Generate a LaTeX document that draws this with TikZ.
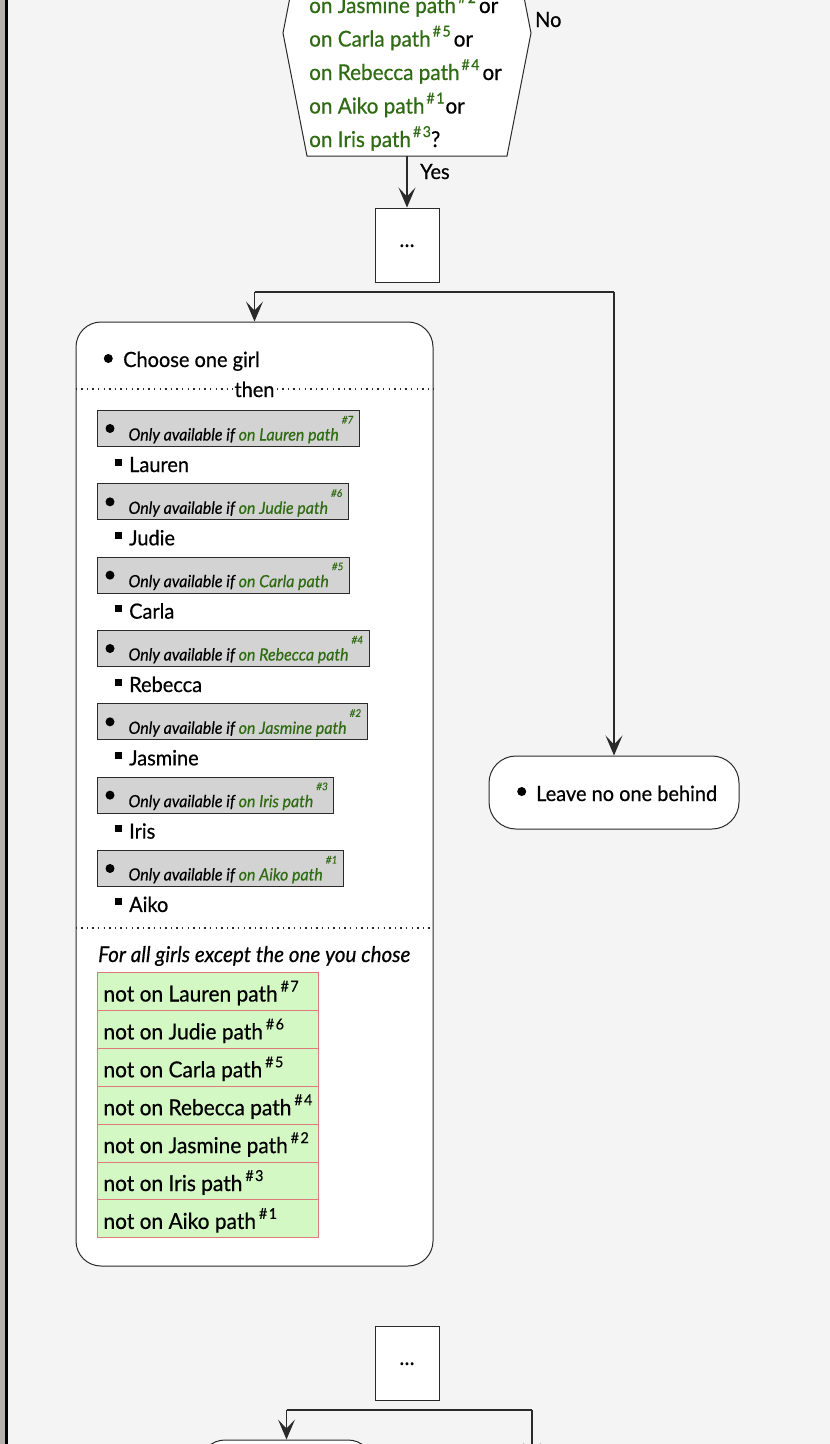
\documentclass[tikz,border=0pt]{standalone}
\usepackage{fontspec}
\setmainfont{Lato}[FakeStretch=0.95, FakeBold=0.5]
\usetikzlibrary{arrows.meta}
\definecolor{bg}{HTML}{F4F4F4}
\definecolor{strip}{HTML}{B4B1AE}
\definecolor{pathgreen}{HTML}{2F6B12}
\definecolor{grayfill}{HTML}{D3D3D3}
\definecolor{tabfill}{HTML}{D4F8C4}
\definecolor{tabline}{HTML}{E07A7A}
\definecolor{edge}{HTML}{2A2A2A}
\newcommand\hexsup[1]{\kern2pt\raisebox{10pt}{\fontsize{15}{14}\selectfont\#\kern1.5pt#1}}
\newcommand\gsup[1]{\kern3pt\raisebox{17pt}{\fontsize{10.5}{10}\selectfont\itshape\##1}}
\newcommand\tsup[1]{\kern3pt\raisebox{10pt}{\fontsize{15}{14}\selectfont\#\kern1.5pt#1}}
\begin{document}
\begin{tikzpicture}[x=1pt,y=1pt,
  fnt/.style={font=\fontsize{21}{24}\selectfont},
  plain/.style={fnt, inner sep=0pt, anchor=base west},
  hexfnt/.style={font=\fontsize{21.8}{24}\selectfont},
  boxline/.style={draw=edge, line width=1pt},
  dotsbox/.style={boxline, fill=white, minimum width=64pt, minimum height=74pt, inner sep=0pt, fnt},
  roundbox/.style={boxline, fill=white, inner sep=0pt},
  graybox/.style={draw=edge, line width=1pt, fill=grayfill, inner sep=0pt, anchor=north west,
    text height=30pt, text depth=6pt, font=\fontsize{16.8}{18}\selectfont\itshape},
  tabrow/.style={draw=tabline, line width=1pt, fill=tabfill, inner xsep=6pt, inner ysep=0pt,
    anchor=north west, text height=29pt, text depth=9pt,
    font=\fontsize{22}{24}\selectfont},
  arr/.style={draw=edge, line width=1.5pt, -{Stealth[length=20pt,width=17pt,inset=9pt]}},
  bar/.style={draw=edge, line width=2.6pt},
  dots/.style={draw=edge, line width=1.4pt, dash pattern=on 1.4pt off 4.2pt},
]
\useasboundingbox (0,0) rectangle (830,-1444);
\clip (0,0) rectangle (830,-1444);
% background and window edge
\fill[bg] (0,0) rectangle (830,-1444);
\fill[strip] (0,0) rectangle (5,-1444);
\fill[black] (5,0) rectangle (8,-1444);

% decision hexagon
\draw[boxline, fill=white] (307,90) -- (507,90) -- (531,-33) -- (507,-156) -- (307,-156) -- (283,-33) -- cycle;
\coordinate (hexb) at (407,-156);
\node[plain, hexfnt] (h1) at (309,-13) {\color{pathgreen}on Jasmine path\hexsup{2}\kern3pt\color{black}or};
\node[plain, hexfnt] (h2) at (309,-46.5) {\color{pathgreen}on Carla path\hexsup{5}\kern3pt\color{black}or};
\node[plain, hexfnt] (h3) at (309,-80) {\color{pathgreen}on Rebecca path\hexsup{4}\kern3pt\color{black}or};
\node[plain, hexfnt] (h4) at (309,-113.5) {\color{pathgreen}on Aiko path\hexsup{1}\kern1pt\color{black}or};
\node[plain, hexfnt] (h5) at (309,-147) {\color{pathgreen}on Iris path\hexsup{3}\color{black}?};
\node[plain] (no) at (535,-27) {No};

% first action box
\node[dotsbox] (d1) at (407,-245) {\raisebox{-4pt}{…}};
\draw[arr] (hexb) -- (d1.north);
\node[plain] (yes) at (420,-179) {Yes};

% fork
\coordinate (f1a) at (254.5,-292);
\coordinate (f1b) at (614,-292);
\draw[bar] (f1a) -- (f1b);

% main choice box
\node[roundbox, rounded corners=25pt, minimum width=357pt, minimum height=944pt] (main) at (254.5,-794) {};
\draw[arr] (f1a) -- (main.north);

\fill[black] (108.3,-358.5) circle (4.5);
\node[plain] (choose) at (123,-367) {Choose one girl};
\node[fnt, inner xsep=2pt, inner ysep=0pt, anchor=base] (then) at (254.5,-397) {then};
\draw[dots] (main.west |- 0,-389) -- (then.west |- 0,-389);
\draw[dots] (then.east |- 0,-389) -- (main.east |- 0,-389);

% girls
\foreach \i/\name/\num in {0/Lauren/7,1/Judie/6,2/Carla/5,3/Rebecca/4,4/Jasmine/2,5/Iris/3,6/Aiko/1}{
  \pgfmathsetmacro\top{-410-73.33*\i}
  \node[graybox] (g\i) at (97,\top) {\hspace*{31pt}Only available if {\color{pathgreen}on \name\ path\gsup{\num}}\hspace*{6pt}};
  \fill[black] (110,\top-18.5) circle (4.5);
  \fill[black] (115,\top-48.5) rectangle +(7,-7);
  \node[plain] (n\i) at (129,\top-62) {\name};
}
\draw[dots] (main.west |- 0,-928) -- (main.east |- 0,-928);

\node[plain, font=\fontsize{21.7}{24}\selectfont\itshape] (forall) at (98,-962) {For all girls except the one you chose};
\foreach \i/\name/\num in {0/Lauren/7,1/Judie/6,2/Carla/5,3/Rebecca/4,4/Jasmine/2,5/Iris/3,6/Aiko/1}{
  \node[tabrow] (t\i) at (97,-972-37.9*\i) {\makebox[209pt][l]{not on \name\ path\tsup{\num}}};
}

% right branch
\node[roundbox, rounded corners=27pt, minimum width=250pt, minimum height=73pt] (leave) at (614,-792.5) {};
\fill[black] (521.7,-791.5) circle (4.5);
\node[plain] (leavetxt) at (536,-801) {Leave no one behind};
\draw[arr] (f1b) -- (leave.north);

% second action box and fork
\node[dotsbox] (d2) at (407,-1363) {\raisebox{-4pt}{…}};
\coordinate (f2a) at (286.5,-1410);
\coordinate (f2b) at (532,-1410);
\draw[bar] (f2a) -- (f2b);
\node[roundbox, rounded corners=25pt, minimum width=173pt, minimum height=80pt] (bottom) at (286.5,-1480) {};
\draw[arr] (f2a) -- (bottom.north);
\coordinate (f2end) at (532,-1463);
\draw[arr] (f2b) -- (f2end);
\end{tikzpicture}
\end{document}
